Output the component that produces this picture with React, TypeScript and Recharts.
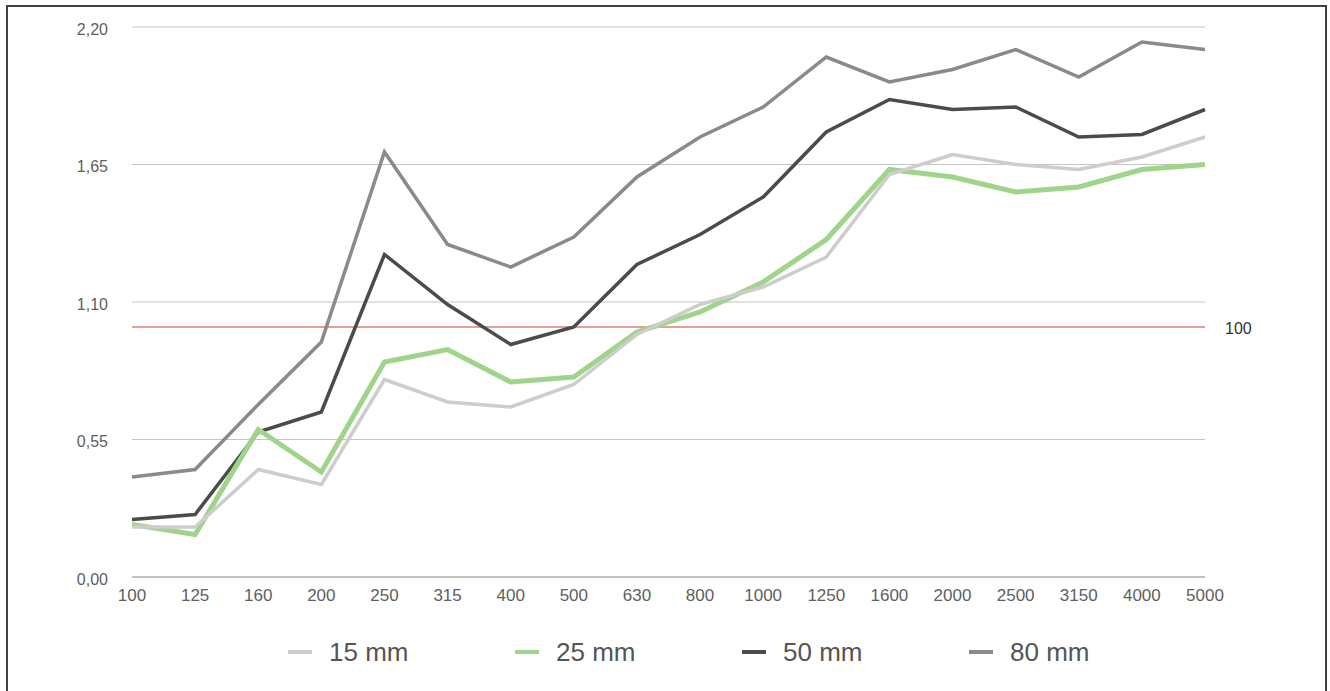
import React from 'react';
import { LineChart, Line, XAxis, YAxis, CartesianGrid, ReferenceLine, Legend } from 'recharts';

const categories = ['100', '125', '160', '200', '250', '315', '400', '500', '630', '800', '1000', '1250', '1600', '2000', '2500', '3150', '4000', '5000'];
const s15 = [0.20, 0.20, 0.43, 0.37, 0.79, 0.70, 0.68, 0.77, 0.97, 1.09, 1.16, 1.28, 1.61, 1.69, 1.65, 1.63, 1.68, 1.76];
const s25 = [0.21, 0.17, 0.59, 0.42, 0.86, 0.91, 0.78, 0.80, 0.98, 1.06, 1.18, 1.35, 1.63, 1.60, 1.54, 1.56, 1.63, 1.65];
const s50 = [0.23, 0.25, 0.58, 0.66, 1.29, 1.09, 0.93, 1.00, 1.25, 1.37, 1.52, 1.78, 1.91, 1.87, 1.88, 1.76, 1.77, 1.87];
const s80 = [0.40, 0.43, 0.69, 0.94, 1.70, 1.33, 1.24, 1.36, 1.60, 1.76, 1.88, 2.08, 1.98, 2.03, 2.11, 2.00, 2.14, 2.11];
const yTicks = [0, 0.55, 1.1, 1.65, 2.2];
const refValue = 1.0;
const refLabel = '100';

const seriesNames = ['15 mm', '25 mm', '50 mm', '80 mm'];
const seriesKeys = ['s15', 's25', 's50', 's80'];
const seriesColors = ['#cdcdcd', '#9fd48b', '#4b4b4b', '#8a8a8a'];
const seriesWidths = [3.5, 5, 3.5, 3.5];
const drawOrder = [3, 2, 1, 0];

const data = categories.map((c, i) => ({ cat: c, s15: s15[i], s25: s25[i], s50: s50[i], s80: s80[i] }));

const FONT = '"Liberation Sans", Arial, Helvetica, sans-serif';

const LegendContent = () => (
  <div style={{ display: 'flex', alignItems: 'center', height: 40, paddingLeft: 288, fontFamily: FONT }}>
    {seriesNames.map((n, i) => (
      <div key={n} style={{ display: 'flex', alignItems: 'center', width: 227 }}>
        <span style={{ display: 'inline-block', width: 24, height: 4, background: seriesColors[i], marginRight: 17 }} />
        <span style={{ fontSize: 26, color: '#555', lineHeight: '40px' }}>{n}</span>
      </div>
    ))}
  </div>
);

export default function App() {
  return (
    <div style={{ position: 'absolute', left: 0, top: 0, width: 1330, height: 691, background: '#fff', overflow: 'hidden' }}>
      <div
        style={{
          position: 'absolute',
          left: 6,
          top: 5,
          width: 1321,
          height: 720,
          boxSizing: 'border-box',
          borderTop: '2px solid #404040',
          borderLeft: '2px solid #404040',
          borderRight: '2px solid #404040',
          pointerEvents: 'none',
        }}
      />
      <div style={{ position: 'absolute', left: 0, top: 0 }}>
        <LineChart width={1330} height={691} data={data} margin={{ top: 27, right: 125, left: 0, bottom: 84 }}>
          <CartesianGrid vertical={false} stroke="#c4c4c4" strokeWidth={1} />
          <XAxis
            dataKey="cat"
            interval={0}
            height={30}
            tickLine={false}
            tickSize={0}
            tickMargin={12}
            axisLine={{ stroke: '#a0a0a0' }}
            tick={{ fontSize: 17, fill: '#606060', fontFamily: FONT }}
          />
          <YAxis
            width={132}
            domain={[0, 2.2]}
            ticks={yTicks}
            interval={0}
            tickLine={false}
            tickSize={0}
            tickMargin={24}
            axisLine={false}
            tickFormatter={(v: number) => v.toFixed(2).replace('.', ',')}
            tick={{ fontSize: 16, fill: '#606060', fontFamily: FONT, dy: 2 }}
          />
          <ReferenceLine
            y={refValue}
            stroke="#cf3b35"
            strokeWidth={1}
            label={{ value: refLabel, position: 'right', offset: 20, fontSize: 16, fill: '#333', fontFamily: FONT, dy: 1 }}
          />
          {drawOrder.map((i) => (
            <Line
              key={seriesKeys[i]}
              type="linear"
              dataKey={seriesKeys[i]}
              name={seriesNames[i]}
              stroke={seriesColors[i]}
              strokeWidth={seriesWidths[i]}
              dot={false}
              activeDot={false}
              isAnimationActive={false}
            />
          ))}
          <Legend
            layout="horizontal"
            verticalAlign="middle"
            align="center"
            wrapperStyle={{ top: 632, left: 0, width: 1330, height: 40 }}
            content={<LegendContent />}
          />
        </LineChart>
      </div>
    </div>
  );
}
